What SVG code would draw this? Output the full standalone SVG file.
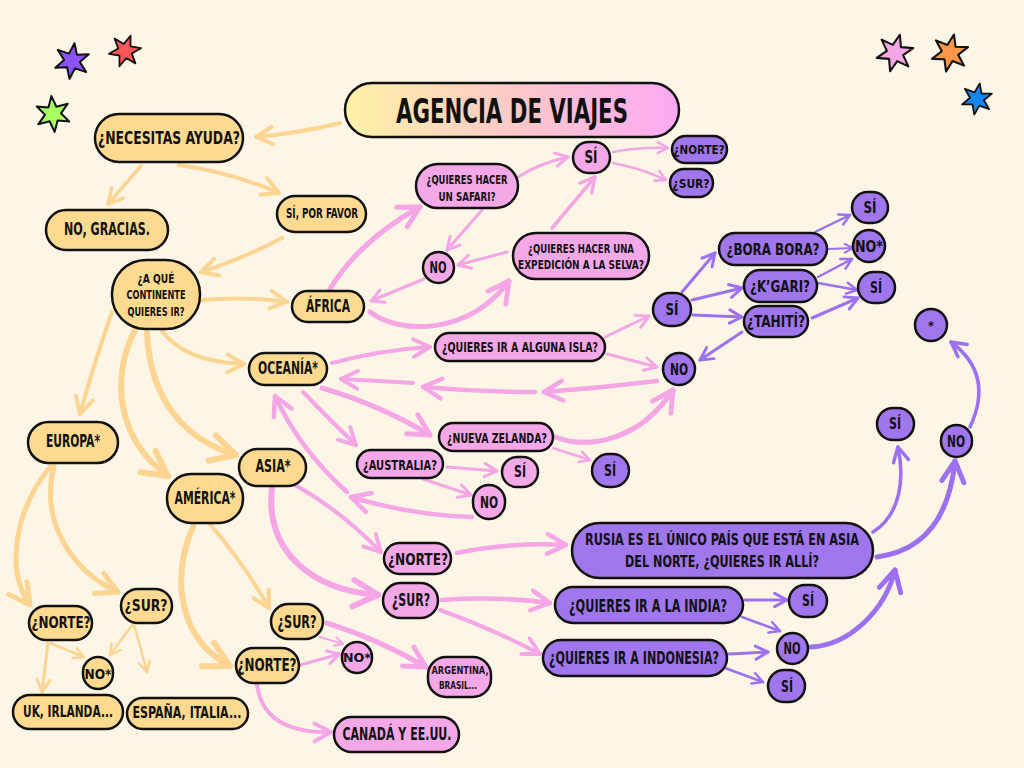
<svg xmlns="http://www.w3.org/2000/svg" width="1024" height="768" viewBox="0 0 1024 768">
<defs>
<linearGradient id="gt" x1="0" y1="0" x2="1" y2="0">
<stop offset="0" stop-color="#fff3a6"/>
<stop offset="0.5" stop-color="#fcc9c8"/>
<stop offset="1" stop-color="#fba9f3"/>
</linearGradient>
<marker id="ao" viewBox="0 0 10 10" refX="9" refY="5" markerWidth="5.5" markerHeight="5.5" orient="auto" markerUnits="strokeWidth" overflow="visible"><path d="M1.5,1 L9,5 L1.5,9" fill="none" stroke="#fdd592" stroke-width="1.8" stroke-linecap="round" stroke-linejoin="round"/></marker>
<marker id="ap" viewBox="0 0 10 10" refX="9" refY="5" markerWidth="5.5" markerHeight="5.5" orient="auto" markerUnits="strokeWidth" overflow="visible"><path d="M1.5,1 L9,5 L1.5,9" fill="none" stroke="#f4a6e6" stroke-width="1.8" stroke-linecap="round" stroke-linejoin="round"/></marker>
<marker id="av" viewBox="0 0 10 10" refX="9" refY="5" markerWidth="5.5" markerHeight="5.5" orient="auto" markerUnits="strokeWidth" overflow="visible"><path d="M1.5,1 L9,5 L1.5,9" fill="none" stroke="#9c70ef" stroke-width="1.8" stroke-linecap="round" stroke-linejoin="round"/></marker>
<path id="star" d="M0,-18 L4,-6.9 L15.6,-9 L8,0 L15.6,9 L4,6.9 L0,18 L-4,6.9 L-15.6,9 L-8,0 L-15.6,-9 L-4,-6.9 Z"/>
</defs>
<style>
.n{stroke:#111;stroke-width:2.5}
.o{fill:#ffda90}
.p{fill:#f5a8e8}
.v{fill:#a076ed}
.t{font-family:"DejaVu Sans Condensed","DejaVu Sans","Liberation Sans",sans-serif;font-weight:bold;fill:#111;text-anchor:middle}
.co path{fill:none;stroke:#fdd592;stroke-linecap:round;marker-end:url(#ao)}
.cp path{fill:none;stroke:#f4a6e6;stroke-linecap:round;marker-end:url(#ap)}
.cv path{fill:none;stroke:#9c70ef;stroke-linecap:round;marker-end:url(#av)}
.st{stroke:#111;stroke-width:2;stroke-linejoin:round}
</style>
<rect width="1024" height="768" fill="#fdf5e6"/>

<g id="stars">
<use href="#star" class="st" fill="#8b52f5" transform="translate(72,61) rotate(8)"/>
<use href="#star" class="st" fill="#ff5757" transform="translate(125,51) rotate(20) scale(0.9)"/>
<use href="#star" class="st" fill="#a8ff62" transform="translate(53,114) rotate(-5)"/>
<use href="#star" class="st" fill="#f5a6e6" transform="translate(895,53) rotate(15) scale(1.05)"/>
<use href="#star" class="st" fill="#ff9748" transform="translate(950,53) rotate(12) scale(1.05)"/>
<use href="#star" class="st" fill="#1486f2" transform="translate(977,99) rotate(10) scale(0.88)"/>
</g>

<g id="connectors">
<g class="co">
<path d="M340,123 Q300,133 256,137" stroke-width="4"/>
<path d="M141,166 L108,204" stroke-width="3.5"/>
<path d="M179,165 Q230,172 279,193" stroke-width="4"/>
<path d="M282,238 Q240,260 201,272" stroke-width="4"/>
<path d="M201,300 Q245,296 287,302" stroke-width="4"/>
<path d="M162,331 Q185,362 244,364" stroke-width="4"/>
<path d="M112,312 Q95,360 80,414" stroke-width="4"/>
<path d="M135,330 C110,380 118,440 168,476" stroke-width="6"/>
<path d="M147,333 C150,400 185,440 236,455" stroke-width="6"/>
<path d="M50,467 C15,510 5,570 30,605" stroke-width="5"/>
<path d="M54,466 C40,520 70,570 118,592" stroke-width="5"/>
<path d="M48,643 L42,692" stroke-width="3"/>
<path d="M50,643 L84,657" stroke-width="2.5"/>
<path d="M133,624 L110,655" stroke-width="2.5"/>
<path d="M134,624 L147,672" stroke-width="2.5"/>
<path d="M193,527 C170,580 180,640 230,666" stroke-width="6"/>
<path d="M210,524 Q245,565 269,608" stroke-width="4"/>
</g>
<g class="cp">
<path d="M330,289 Q360,240 420,207" stroke-width="5"/>
<path d="M370,312 C400,335 470,335 509,281" stroke-width="5"/>
<path d="M424,279 L371,301" stroke-width="3"/>
<path d="M518,177 Q540,163 568,157" stroke-width="3"/>
<path d="M482,210 L447,250" stroke-width="3"/>
<path d="M552,228 L595,177" stroke-width="3.5"/>
<path d="M507,252 L458,265" stroke-width="3"/>
<path d="M613,152 Q640,147 668,148" stroke-width="2.5"/>
<path d="M613,163 Q640,168 666,180" stroke-width="2.5"/>
<path d="M332,363 Q380,350 430,347" stroke-width="4"/>
<path d="M605,337 L649,316" stroke-width="3"/>
<path d="M607,354 L657,367" stroke-width="3"/>
<path d="M657,381 Q600,388 544,392" stroke-width="4.5"/>
<path d="M535,392 Q480,392 423,387" stroke-width="4.5"/>
<path d="M413,383 Q380,381 341,379" stroke-width="4"/>
<path d="M322,388 Q380,405 430,435" stroke-width="5"/>
<path d="M303,392 Q330,420 356,445" stroke-width="4"/>
<path d="M472,517 Q410,515 351,497" stroke-width="4.5"/>
<path d="M347,492 Q300,450 275,396" stroke-width="4.5"/>
<path d="M447,467 L497,471" stroke-width="3"/>
<path d="M423,479 L471,495" stroke-width="3"/>
<path d="M553,448 L590,460" stroke-width="2.5"/>
<path d="M555,437 C590,450 640,440 673,390" stroke-width="5"/>
<path d="M295,485 Q340,510 381,552" stroke-width="4"/>
<path d="M272,488 C265,550 310,590 378,595" stroke-width="6"/>
<path d="M457,553 Q510,542 566,545" stroke-width="4.5"/>
<path d="M442,600 Q500,596 550,603" stroke-width="4.5"/>
<path d="M440,610 Q495,630 540,654" stroke-width="4"/>
<path d="M300,665 L340,654" stroke-width="3"/>
<path d="M320,637 L343,644" stroke-width="2"/>
<path d="M327,623 Q380,640 426,667" stroke-width="5"/>
<path d="M257,685 C262,720 290,733 331,732" stroke-width="4"/>
</g>
<g class="cv">
<path d="M682,292 L715,253" stroke-width="3"/>
<path d="M692,300 L742,288" stroke-width="3"/>
<path d="M693,315 L742,317" stroke-width="3"/>
<path d="M742,332 L700,360" stroke-width="3"/>
<path d="M815,232 L850,215" stroke-width="2.5"/>
<path d="M828,249 L853,248" stroke-width="2"/>
<path d="M818,277 L852,259" stroke-width="2.5"/>
<path d="M818,283 L857,290" stroke-width="2.5"/>
<path d="M812,318 L858,298" stroke-width="3"/>
<path d="M970,427 C985,395 982,365 951,342" stroke-width="3.5"/>
<path d="M873,532 C900,515 905,480 898,447" stroke-width="3.5"/>
<path d="M877,557 C930,550 950,510 955,461" stroke-width="5"/>
<path d="M811,647 C850,645 885,610 895,570" stroke-width="5"/>
<path d="M745,600 L787,600" stroke-width="3"/>
<path d="M742,617 L780,631" stroke-width="2.5"/>
<path d="M729,654 L768,652" stroke-width="3"/>
<path d="M725,668 L763,682" stroke-width="2.5"/>
</g>
</g>

<g id="n-title"><rect class="n" x="345" y="83" width="334" height="54" rx="27" fill="url(#gt)"/><text class="t" x="512" y="123" font-size="34" textLength="232" lengthAdjust="spacingAndGlyphs">AGENCIA DE VIAJES</text></g>
<g id="n-ayuda"><rect class="n o" x="95" y="114" width="148" height="48" rx="24"/><text class="t" x="169" y="144" font-size="17" textLength="142" lengthAdjust="spacingAndGlyphs">¿NECESITAS AYUDA?</text></g>
<g id="n-nogracias"><rect class="n o" x="46" y="210" width="122" height="40" rx="20"/><text class="t" x="107" y="235" font-size="17" textLength="86" lengthAdjust="spacingAndGlyphs">NO, GRACIAS.</text></g>
<g id="n-siporfavor"><rect class="n o" x="277" y="196" width="89" height="36" rx="18"/><text class="t" x="322" y="218" font-size="14" textLength="72" lengthAdjust="spacingAndGlyphs">SÍ, POR FAVOR</text></g>
<g id="n-continente"><rect class="n o" x="112" y="260" width="88" height="69" rx="34"/><text class="t" x="156" y="283" font-size="13" textLength="37" lengthAdjust="spacingAndGlyphs">¿A QUÉ</text><text class="t" x="156" y="299" font-size="13" textLength="59" lengthAdjust="spacingAndGlyphs">CONTINENTE</text><text class="t" x="156" y="316" font-size="13" textLength="57" lengthAdjust="spacingAndGlyphs">QUIERES IR?</text></g>
<g id="n-africa"><rect class="n o" x="292" y="291" width="72" height="31" rx="15.5"/><text class="t" x="328" y="312" font-size="17" textLength="44" lengthAdjust="spacingAndGlyphs">ÁFRICA</text></g>
<g id="n-oceania"><rect class="n o" x="249" y="353" width="78" height="32" rx="16"/><text class="t" x="288" y="374" font-size="17" textLength="60" lengthAdjust="spacingAndGlyphs">OCEANÍA*</text></g>
<g id="n-europa"><rect class="n o" x="28" y="422" width="90" height="41" rx="20.5"/><text class="t" x="73" y="447" font-size="17" textLength="54" lengthAdjust="spacingAndGlyphs">EUROPA*</text></g>
<g id="n-asia"><rect class="n o" x="239" y="449" width="67" height="37" rx="18.5"/><text class="t" x="273" y="472" font-size="17" textLength="35" lengthAdjust="spacingAndGlyphs">ASIA*</text></g>
<g id="n-america"><rect class="n o" x="167" y="474" width="76" height="49" rx="24"/><text class="t" x="205" y="504" font-size="17" textLength="61" lengthAdjust="spacingAndGlyphs">AMÉRICA*</text></g>
<g id="n-eu-norte"><rect class="n o" x="29" y="606" width="63" height="34" rx="17"/><text class="t" x="61" y="628" font-size="16" textLength="59" lengthAdjust="spacingAndGlyphs">¿NORTE?</text></g>
<g id="n-eu-sur"><rect class="n o" x="121" y="589" width="51" height="34" rx="17"/><text class="t" x="146" y="611" font-size="16" textLength="43" lengthAdjust="spacingAndGlyphs">¿SUR?</text></g>
<g id="n-eu-no"><rect class="n o" x="83" y="657" width="30" height="32" rx="15"/><text class="t" x="98" y="679" font-size="14" textLength="27" lengthAdjust="spacingAndGlyphs">NO*</text></g>
<g id="n-uk"><rect class="n o" x="13" y="695" width="110" height="34" rx="17"/><text class="t" x="68" y="717" font-size="16" textLength="90" lengthAdjust="spacingAndGlyphs">UK, IRLANDA...</text></g>
<g id="n-espana"><rect class="n o" x="127" y="698" width="121" height="31" rx="15.5"/><text class="t" x="187" y="718" font-size="16" textLength="109" lengthAdjust="spacingAndGlyphs">ESPAÑA, ITALIA...</text></g>
<g id="n-am-sur"><rect class="n o" x="271" y="604" width="52" height="35" rx="17.5"/><text class="t" x="297" y="628" font-size="17" textLength="39" lengthAdjust="spacingAndGlyphs">¿SUR?</text></g>
<g id="n-am-norte"><rect class="n o" x="236" y="648" width="63" height="35" rx="17.5"/><text class="t" x="267" y="671" font-size="17" textLength="59" lengthAdjust="spacingAndGlyphs">¿NORTE?</text></g>
<g id="n-am-no"><rect class="n p" x="342" y="642" width="30" height="31" rx="15"/><text class="t" x="357" y="662" font-size="13" textLength="28" lengthAdjust="spacingAndGlyphs">NO*</text></g>
<g id="n-argentina"><rect class="n p" x="428" y="657" width="63" height="40" rx="18"/><text class="t" x="460" y="674" font-size="10" textLength="57" lengthAdjust="spacingAndGlyphs">ARGENTINA,</text><text class="t" x="458" y="689" font-size="10" textLength="38" lengthAdjust="spacingAndGlyphs">BRASIL...</text></g>
<g id="n-canada"><rect class="n p" x="334" y="717" width="125" height="35" rx="17.5"/><text class="t" x="397" y="740" font-size="17" textLength="109" lengthAdjust="spacingAndGlyphs">CANADÁ Y EE.UU.</text></g>
<g id="n-as-norte"><rect class="n p" x="384" y="543" width="67" height="31" rx="15.5"/><text class="t" x="418" y="565" font-size="16" textLength="60" lengthAdjust="spacingAndGlyphs">¿NORTE?</text></g>
<g id="n-as-sur"><rect class="n p" x="383" y="583" width="55" height="35" rx="17.5"/><text class="t" x="411" y="606" font-size="17" textLength="38" lengthAdjust="spacingAndGlyphs">¿SUR?</text></g>
<g id="n-safari"><rect class="n p" x="416" y="164" width="102" height="44" rx="22"/><text class="t" x="467" y="184" font-size="13" textLength="81" lengthAdjust="spacingAndGlyphs">¿QUIERES HACER</text><text class="t" x="467" y="201" font-size="13" textLength="57" lengthAdjust="spacingAndGlyphs">UN SAFARI?</text></g>
<g id="n-af-si"><rect class="n p" x="573" y="142" width="37" height="31" rx="15.5"/><text class="t" x="591" y="163" font-size="17" textLength="13" lengthAdjust="spacingAndGlyphs">SÍ</text></g>
<g id="n-af-no"><rect class="n p" x="423" y="252" width="31" height="31" rx="15.5"/><text class="t" x="438" y="273" font-size="16" textLength="17" lengthAdjust="spacingAndGlyphs">NO</text></g>
<g id="n-selva"><rect class="n p" x="513" y="233" width="136" height="46" rx="23"/><text class="t" x="581" y="253" font-size="13" textLength="106" lengthAdjust="spacingAndGlyphs">¿QUIERES HACER UNA</text><text class="t" x="581" y="269" font-size="13" textLength="126" lengthAdjust="spacingAndGlyphs">EXPEDICIÓN A LA SELVA?</text></g>
<g id="n-isla"><rect class="n p" x="435" y="333" width="170" height="28" rx="14"/><text class="t" x="520" y="352" font-size="14" textLength="156" lengthAdjust="spacingAndGlyphs">¿QUIERES IR A ALGUNA ISLA?</text></g>
<g id="n-nz"><rect class="n p" x="439" y="423" width="114" height="28" rx="14"/><text class="t" x="497" y="443" font-size="14" textLength="100" lengthAdjust="spacingAndGlyphs">¿NUEVA ZELANDA?</text></g>
<g id="n-australia"><rect class="n p" x="357" y="450" width="86" height="28" rx="14"/><text class="t" x="400" y="470" font-size="14" textLength="74" lengthAdjust="spacingAndGlyphs">¿AUSTRALIA?</text></g>
<g id="n-au-si"><rect class="n p" x="502" y="457" width="36" height="30" rx="15"/><text class="t" x="520" y="477" font-size="16" textLength="12" lengthAdjust="spacingAndGlyphs">SÍ</text></g>
<g id="n-au-no"><rect class="n p" x="473" y="485" width="32" height="34" rx="16"/><text class="t" x="489" y="508" font-size="15" textLength="18" lengthAdjust="spacingAndGlyphs">NO</text></g>
<g id="n-af-norte"><rect class="n v" x="672" y="136" width="55" height="27" rx="13.5"/><text class="t" x="699" y="154" font-size="13" textLength="51" lengthAdjust="spacingAndGlyphs">¿NORTE?</text></g>
<g id="n-af-sur"><rect class="n v" x="670" y="169" width="43" height="28" rx="14"/><text class="t" x="691" y="188" font-size="13" textLength="37" lengthAdjust="spacingAndGlyphs">¿SUR?</text></g>
<g id="n-bora"><rect class="n v" x="719" y="233" width="108" height="32" rx="16"/><text class="t" x="773" y="255" font-size="16" textLength="93" lengthAdjust="spacingAndGlyphs">¿BORA BORA?</text></g>
<g id="n-kgari"><rect class="n v" x="744" y="270" width="73" height="32" rx="16"/><text class="t" x="780" y="292" font-size="16" textLength="60" lengthAdjust="spacingAndGlyphs">¿K’GARI?</text></g>
<g id="n-tahiti"><rect class="n v" x="744" y="306" width="64" height="31" rx="15.5"/><text class="t" x="776" y="327" font-size="16" textLength="58" lengthAdjust="spacingAndGlyphs">¿TAHITÍ?</text></g>
<g id="n-oc-si"><rect class="n v" x="653" y="293" width="38" height="33" rx="16.5"/><text class="t" x="672" y="315" font-size="16" textLength="13" lengthAdjust="spacingAndGlyphs">SÍ</text></g>
<g id="n-bb-si"><rect class="n v" x="852" y="192" width="36" height="31" rx="15.5"/><text class="t" x="870" y="213" font-size="16" textLength="13" lengthAdjust="spacingAndGlyphs">SÍ</text></g>
<g id="n-bb-no"><rect class="n v" x="853" y="230" width="32" height="32" rx="16"/><text class="t" x="869" y="252" font-size="15" textLength="28" lengthAdjust="spacingAndGlyphs">NO*</text></g>
<g id="n-kg-si"><rect class="n v" x="858" y="272" width="37" height="31" rx="15.5"/><text class="t" x="876" y="293" font-size="16" textLength="12" lengthAdjust="spacingAndGlyphs">SÍ</text></g>
<g id="n-ast"><circle class="n v" cx="931" cy="325" r="16"/><text class="t" x="931" y="330" font-size="13">*</text></g>
<g id="n-oc-no"><rect class="n v" x="663" y="353" width="32" height="32" rx="16"/><text class="t" x="679" y="375" font-size="15" textLength="18" lengthAdjust="spacingAndGlyphs">NO</text></g>
<g id="n-nz-si"><rect class="n v" x="592" y="454" width="37" height="33" rx="16.5"/><text class="t" x="610" y="476" font-size="16" textLength="12" lengthAdjust="spacingAndGlyphs">SÍ</text></g>
<g id="n-ru-si"><rect class="n v" x="877" y="408" width="37" height="32" rx="16"/><text class="t" x="895" y="429" font-size="16" textLength="12" lengthAdjust="spacingAndGlyphs">SÍ</text></g>
<g id="n-ru-no"><rect class="n v" x="941" y="425" width="31" height="32" rx="15.5"/><text class="t" x="956" y="447" font-size="15" textLength="18" lengthAdjust="spacingAndGlyphs">NO</text></g>
<g id="n-rusia"><rect class="n v" x="572" y="523" width="301" height="55" rx="27.5"/><text class="t" x="722" y="545" font-size="16" textLength="274" lengthAdjust="spacingAndGlyphs">RUSIA ES EL ÚNICO PAÍS QUE ESTÁ EN ASIA</text><text class="t" x="722" y="567" font-size="16" textLength="194" lengthAdjust="spacingAndGlyphs">DEL NORTE, ¿QUIERES IR ALLÍ?</text></g>
<g id="n-india"><rect class="n v" x="555" y="587" width="188" height="36" rx="18"/><text class="t" x="648" y="612" font-size="17" textLength="158" lengthAdjust="spacingAndGlyphs">¿QUIERES IR A LA INDIA?</text></g>
<g id="n-indonesia"><rect class="n v" x="543" y="640" width="184" height="36" rx="18"/><text class="t" x="634" y="664" font-size="17" textLength="170" lengthAdjust="spacingAndGlyphs">¿QUIERES IR A INDONESIA?</text></g>
<g id="n-in-si"><rect class="n v" x="789" y="585" width="38" height="32" rx="16"/><text class="t" x="808" y="606" font-size="16" textLength="12" lengthAdjust="spacingAndGlyphs">SÍ</text></g>
<g id="n-in-no"><rect class="n v" x="777" y="633" width="31" height="31" rx="15.5"/><text class="t" x="792" y="654" font-size="15" textLength="17" lengthAdjust="spacingAndGlyphs">NO</text></g>
<g id="n-id-si"><rect class="n v" x="768" y="670" width="37" height="32" rx="16"/><text class="t" x="787" y="692" font-size="16" textLength="12" lengthAdjust="spacingAndGlyphs">SÍ</text></g>
</svg>
